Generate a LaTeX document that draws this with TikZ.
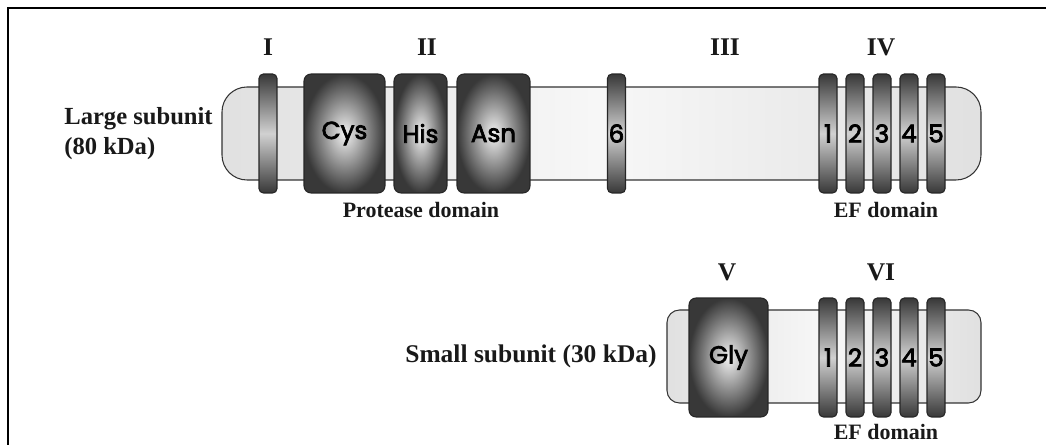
\documentclass[tikz,border=0pt]{standalone}
\usepackage{fontspec}
\setmainfont{Liberation Serif}
\newfontfamily\bandfont[FakeBold=3]{Poppins}
\usetikzlibrary{positioning}
\tikzset{
  body/.style={draw=black!80, line width=0.6pt, left color=black!12, right color=black!12, middle color=black!3},
  ring/.style={draw=black!85, line width=0.6pt, rounded corners=2.5pt, minimum width=0.36cm, minimum height=2.38cm,
    inner sep=0pt, top color=black!78, bottom color=black!78, middle color=black!18,
    font=\bandfont\fontsize{14}{14}\selectfont},
  block/.style={ring, rounded corners=4pt, inner color=black!5, outer color=black!78},
  lbl/.style={font=\bfseries\fontsize{14.5}{17}\selectfont, text=black!90, inner sep=0pt},
  dom/.style={lbl, font=\bfseries\fontsize{12.5}{15}\selectfont},
}

\begin{document}
\begin{tikzpicture}[x=0.02cm, y=-0.02cm]
\useasboundingbox (0,0) rectangle (1046,445);
\draw[line width=1.2pt] (8,445) -- (8,8) -- (1046,8);

% large subunit
\draw[body, rounded corners=0.5cm] (222,87) rectangle (981,180);
\node[ring]                       (I)    at (268,133.5) {};
\node[block, minimum width=1.62cm] (Cys)  at (344.5,133.5) {Cys};
\node[block, minimum width=1.06cm] (His)  at (420.5,133.5) {His};
\node[block, minimum width=1.46cm] (Asn)  at (493.5,133.5) {Asn};
\node[ring]                       (six)  at (616.5,133.5) {6};
\foreach \i in {1,...,5}
  \node[ring] (ef-L\i) at ({801+27*\i},133.5) {\i};

\node[lbl] (dI)   at (268,47) {I};
\node[lbl] (dII)  at (427,47) {II};
\node[lbl] (dIII) at (725,47) {III};
\node[lbl] (dIV)  at (881,47) {IV};
\node[lbl, font=\bfseries\fontsize{14}{17}\selectfont, align=left, anchor=west] (large) at (64,134) {Large subunit\\(80 kDa)};
\node[dom] (protease) at (421,210) {Protease domain};
\node[dom] (ef-large) at (886,210) {EF domain};

% small subunit
\draw[body, rounded corners=0.25cm] (667,310) rectangle (981,403);
\node[block, minimum width=1.58cm] (Gly) at (728.5,357.5) {Gly};
\foreach \i in {1,...,5}
  \node[ring] (ef-S\i) at ({801+27*\i},357.5) {\i};

\node[lbl] (dV)  at (727,272) {V};
\node[lbl] (dVI) at (881,272) {VI};
\node[lbl, anchor=east] (small) at (657,356) {Small subunit (30 kDa)};
\node[dom] (ef-small) at (886,432) {EF domain};
\end{tikzpicture}
\end{document}
